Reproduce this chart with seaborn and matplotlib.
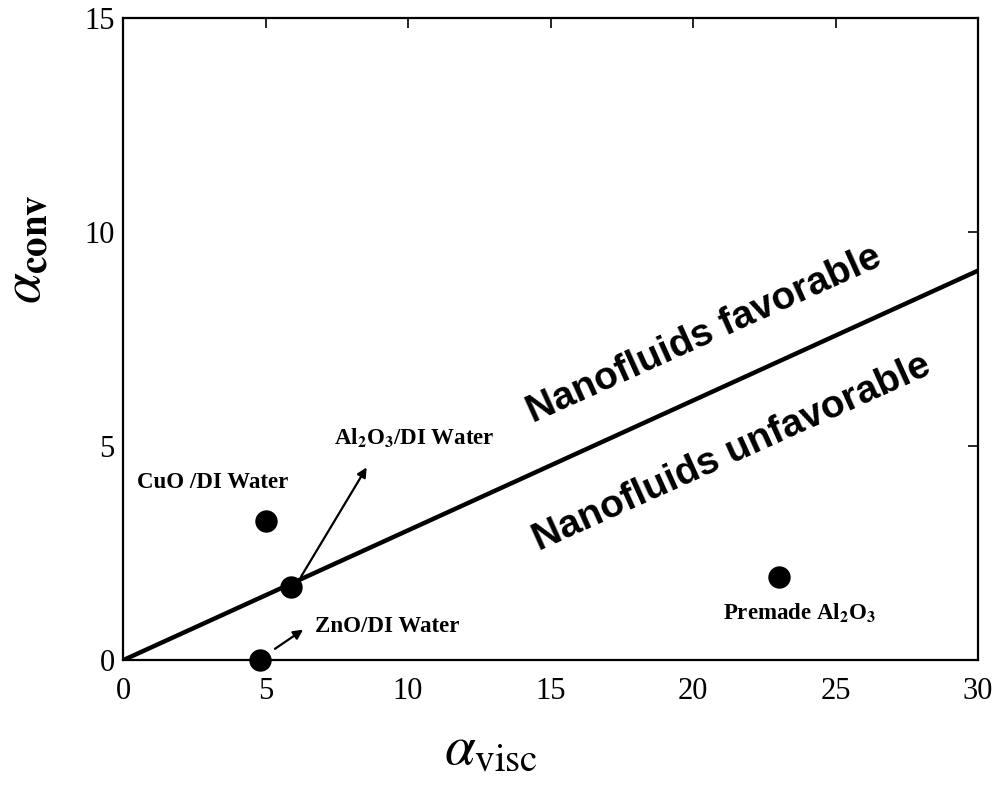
import matplotlib
matplotlib.use("Agg")
import matplotlib.pyplot as plt
import seaborn as sns
import pandas as pd

# Data
line_x = [0, 30]
line_y = [0, 9.1]
point_names = ["CuO /DI Water", "Al2O3/DI Water", "ZnO/DI Water", "Premade Al2O3"]
point_x = [5.0, 5.9, 4.8, 23.0]
point_y = [3.25, 1.7, 0.0, 1.95]
x_ticks = [0, 5, 10, 15, 20, 25, 30]
y_ticks = [0, 5, 10, 15]

sns.set_theme(style="white")
plt.rcParams["font.family"] = ["Liberation Serif", "DejaVu Serif"]
plt.rcParams["mathtext.fontset"] = "stix"
plt.rcParams["text.color"] = "black"
plt.rcParams["axes.labelcolor"] = "black"

fig = plt.figure(figsize=(10, 7.86), dpi=100)
ax = fig.add_axes([0.123, 0.160, 0.855, 0.817])

sns.lineplot(x=line_x, y=line_y, ax=ax, color="black", linewidth=3.2)
df = pd.DataFrame({"x": point_x, "y": point_y, "name": point_names})
sns.scatterplot(data=df, x="x", y="y", ax=ax, color="black", s=260,
                edgecolor="black", linewidth=0, zorder=5, clip_on=False)

ax.set_xlim(0, 30)
ax.set_ylim(0, 15)
ax.set_xticks(x_ticks)
ax.set_yticks(y_ticks)
ax.tick_params(direction="in", length=7, width=1.2, top=True, right=True,
               labelsize=22, colors="black")
ax.tick_params(axis="x", pad=12)
ax.tick_params(axis="y", pad=6)
for sp in ax.spines.values():
    sp.set_color("black")
    sp.set_linewidth(1.6)

ax.set_xlabel(r"$\alpha_{\mathrm{visc}}$", fontsize=40)
ax.set_ylabel(r"$\alpha_{\mathbf{conv}}$", fontsize=40)
ax.xaxis.set_label_coords(0.43, -0.1)
ax.yaxis.set_label_coords(-0.083, 0.64)

# Region labels
sans = ["Liberation Sans", "DejaVu Sans"]
ax.text(20.4, 7.6, "Nanofluids favorable", family=sans, fontweight="bold",
        fontsize=28, rotation=24.3, ha="center", va="center", color="black")
ax.text(21.35, 4.85, "Nanofluids unfavorable", family=sans, fontweight="bold",
        fontsize=28, rotation=24.3, ha="center", va="center", color="black")

# Point labels
lab_kw = dict(fontsize=16.5, fontweight="bold", va="center", ha="left", color="black")
ax.text(0.5, 4.16, "CuO /DI Water", **lab_kw)
ax.text(21.05, 1.12, r"Premade Al$_{\mathbf{2}}$O$_{\mathbf{3}}$", **lab_kw)
ax.text(7.4, 5.2, r"Al$_{\mathbf{2}}$O$_{\mathbf{3}}$/DI Water", **lab_kw)
ax.text(6.75, 0.78, "ZnO/DI Water", **lab_kw)

arrow = dict(arrowstyle="-|>", color="black", lw=1.6, mutation_scale=14)
ax.annotate("", xy=(8.6, 4.56), xytext=(6.2, 1.9), arrowprops=arrow)
ax.annotate("", xy=(6.4, 0.75), xytext=(5.25, 0.23), arrowprops=arrow)

fig.savefig("out.png", dpi=100)
